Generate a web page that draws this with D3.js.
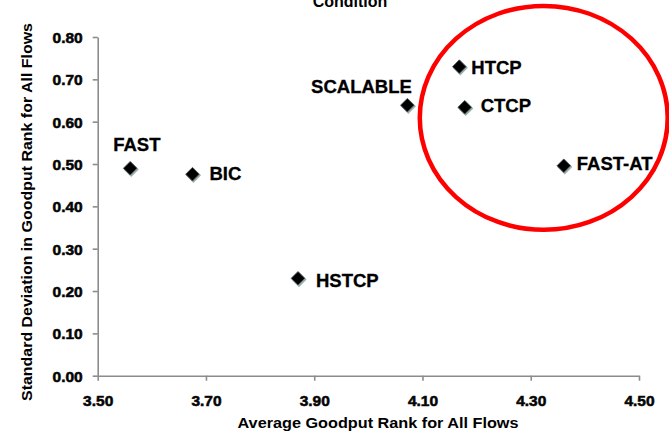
<!DOCTYPE html>
<html>
<head>
<meta charset="utf-8">
<script src="https://cdn.jsdelivr.net/npm/d3@7"></script>
<style>
  html, body { margin: 0; padding: 0; background: #fff; }
  svg { display: block; }
  text { font-family: Arial, "Liberation Sans", Helvetica, sans-serif; font-weight: bold; fill: #000; }
</style>
</head>
<body>
<svg id="chart" width="669" height="432"></svg>
<script>
// TCP variants: mean goodput rank vs. spread of goodput rank
const protocols = ["FAST", "BIC", "HSTCP", "SCALABLE", "HTCP", "CTCP", "FAST-AT"];
const avgRank   = [3.56, 3.675, 3.87, 4.072, 4.168, 4.178, 4.361];
const stdRank   = [0.49, 0.476, 0.23, 0.639, 0.730, 0.634, 0.496];

const xTicks = [3.50, 3.70, 3.90, 4.10, 4.30, 4.50];
const yTicks = [0.00, 0.10, 0.20, 0.30, 0.40, 0.50, 0.60, 0.70, 0.80];

const chartTitle = "Condition";
const xTitle = "Average Goodput Rank for All Flows";
const yTitle = "Standard Deviation in Goodput Rank for All Flows";

// highlighted group (ellipse in data units)
const highlightCenter = [4.324, 0.609];
const highlightRadii  = [0.229, 0.2645];

const svg = d3.select("#chart");
const x = d3.scaleLinear().domain([3.5, 4.5]).range([97.7, 639]);
const y = d3.scaleLinear().domain([0, 0.8]).range([375.7, 37]);

// title (top partly outside the canvas)
svg.append("text").attr("x", 350).attr("y", 7).attr("text-anchor", "middle")
  .style("font-size", "16px").text(chartTitle);

const axisColor = "#8c8c8c";

// y axis
const yAxis = svg.append("g").attr("transform", `translate(${x(3.5)},0)`)
  .call(d3.axisLeft(y).tickValues(yTicks).tickFormat(d3.format(".2f")).tickSize(5).tickSizeOuter(0).tickPadding(10));
// x axis
const xAxis = svg.append("g").attr("transform", `translate(0,${y(0)})`)
  .call(d3.axisBottom(x).tickValues(xTicks).tickFormat(d3.format(".2f")).tickSize(5).tickSizeOuter(0).tickPadding(14));

[yAxis, xAxis].forEach(g => {
  g.select(".domain").attr("stroke", axisColor).attr("stroke-width", 1.6);
  g.selectAll(".tick line").attr("stroke", axisColor).attr("stroke-width", 1.6);
  g.selectAll(".tick text")
    .style("font-family", "Arial, 'Liberation Sans', sans-serif")
    .style("font-weight", "bold").style("font-size", "15.5px")
    .attr("fill", "#111").attr("stroke", "#111").attr("stroke-width", 0.6);
});
yAxis.selectAll(".tick text").attr("dy", "0.35em");

// axis titles
svg.append("text").attr("x", 378).attr("y", 428).attr("text-anchor", "middle")
  .attr("textLength", 281).attr("lengthAdjust", "spacingAndGlyphs")
  .style("font-size", "15px").attr("fill", "#222").text(xTitle);
svg.append("text").attr("transform", "translate(32,212) rotate(-90)").attr("text-anchor", "middle")
  .attr("textLength", 378).attr("lengthAdjust", "spacingAndGlyphs")
  .style("font-size", "15px").attr("fill", "#222").text(yTitle);

// data points
const points = protocols.map((p, i) => ({ name: p, ax: avgRank[i], sd: stdRank[i] }));
const diamond = d3.symbol().type(d3.symbolSquare).size(92);

const marks = svg.append("g").selectAll("g.pt").data(points).join("g")
  .attr("class", "pt")
  .attr("transform", d => `translate(${x(d.ax)},${y(d.sd)})`);
marks.append("path").attr("d", diamond)
  .attr("transform", "translate(1,1.2) rotate(45)")
  .attr("fill", "#8fa3a3").attr("stroke", "#9fb0b0").attr("stroke-width", 1.2);
marks.append("path").attr("d", diamond)
  .attr("transform", "rotate(45)")
  .attr("fill", "#000").attr("stroke", "#4a5656").attr("stroke-width", 0.8);

// label placement next to each mark
const labelPlace = {
  "FAST":     { dx: -17, dy: -17.6, anchor: "start" },
  "BIC":      { dx: 17,  dy: 6,     anchor: "start" },
  "HSTCP":    { dx: 18,  dy: 8.4,   anchor: "start" },
  "SCALABLE": { dx: 4.5, dy: -11.7, anchor: "end" },
  "HTCP":     { dx: 12,  dy: 7.3,   anchor: "start" },
  "CTCP":     { dx: 16,  dy: 4.8,   anchor: "start" },
  "FAST-AT":  { dx: 13,  dy: 4.5,   anchor: "start" }
};
svg.append("g").selectAll("text").data(points).join("text")
  .attr("x", d => x(d.ax) + labelPlace[d.name].dx)
  .attr("y", d => y(d.sd) + labelPlace[d.name].dy)
  .attr("text-anchor", d => labelPlace[d.name].anchor)
  .style("font-size", "18.5px")
  .attr("stroke", "#000").attr("stroke-width", 0.3)
  .text(d => d.name);

// highlight ellipse
svg.append("ellipse")
  .attr("cx", x(highlightCenter[0])).attr("cy", y(highlightCenter[1]))
  .attr("rx", x(3.5 + highlightRadii[0]) - x(3.5))
  .attr("ry", y(0) - y(highlightRadii[1]))
  .attr("fill", "none").attr("stroke", "#ff0000").attr("stroke-width", 4.5);
</script>
</body>
</html>
